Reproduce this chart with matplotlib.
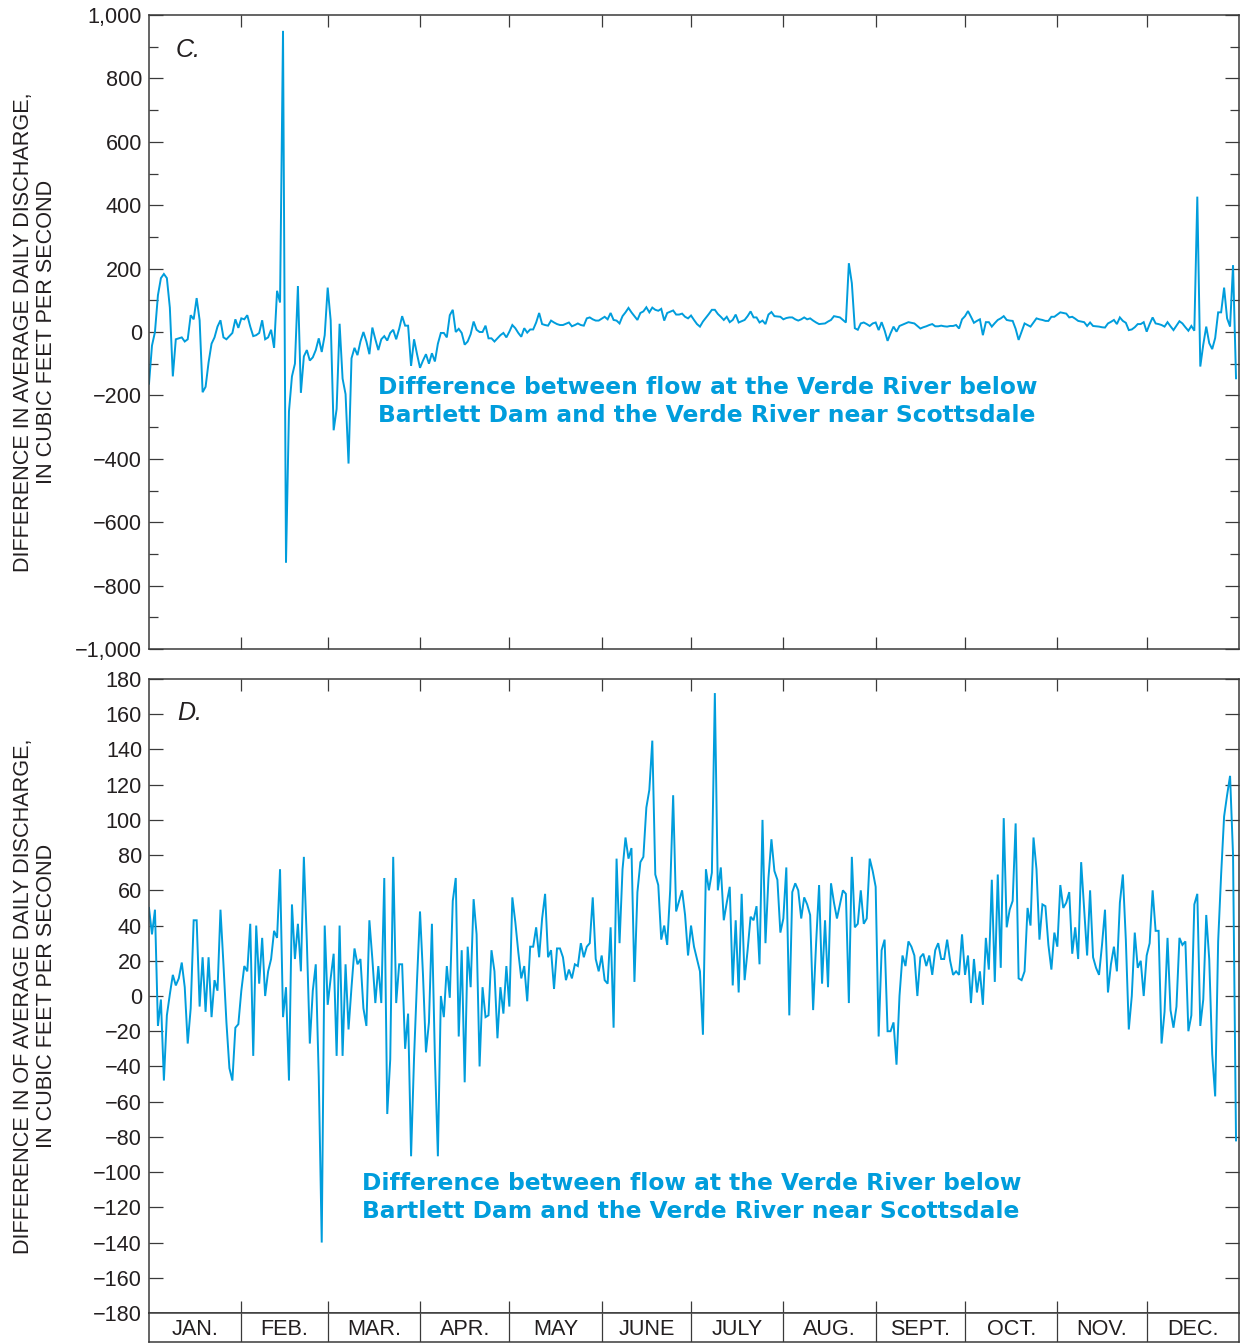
import matplotlib
matplotlib.use("Agg")
import matplotlib.pyplot as plt
import numpy as np

# ---------------- data ----------------
months = ["JAN.", "FEB.", "MAR.", "APR.", "MAY", "JUNE", "JULY", "AUG.",
          "SEPT.", "OCT.", "NOV.", "DEC."]
month_days = [31, 29, 31, 30, 31, 30, 31, 31, 30, 31, 30, 31]

# Panel C: daily difference (cubic feet per second)
c_jan = [-163, -43, 0, 116, 170, 183, 170, 77, -140, -23, -20, -17, -30, -23, 53, 40,
         107, 37, -190, -173, -96, -37, -17, 17, 37, -17, -23, -13, -3, 40, 13]
c_feb = [43, 40, 53, 17, -13, -10, -3, 37, -23, -17, 7, -50, 130, 93, 950, -728,
         -250, -140, -100, 145, -192, -77, -57, -90, -80, -57, -20, -63, -10]
c_mar = [140, 37, -310, -243, 26, -147, -196, -415, -83, -50, -73, -30, 0, -30, -70, 14,
         -23, -57, -23, -13, -27, -3, 7, -23, 10, 50, 20, 20, -107, -23, -70]
c_apr = [-113, -90, -70, -100, -67, -93, -37, -3, -3, -17, 53, 70, 0, 10, -3, -40,
         -30, -7, 33, 7, 0, 0, 20, -20, -20, -30, -20, -10, -3, -17]
c_may = [1, 22, 12, -3, -15, 12, -2, 8, 8, 30, 60, 25, 22, 20, 36, 30,
         25, 22, 22, 26, 30, 18, 22, 27, 22, 20, 43, 46, 40, 36, 36]
c_jun = [42, 48, 40, 60, 38, 36, 27, 50, 62, 76, 62, 50, 38, 60, 65, 78,
         62, 77, 70, 67, 73, 36, 60, 64, 68, 55, 55, 58, 48, 43]
c_jul = [52, 38, 25, 17, 33, 45, 57, 70, 70, 57, 48, 38, 48, 31, 38, 55,
         30, 34, 38, 50, 65, 46, 46, 30, 36, 25, 55, 63, 50, 49, 48]
c_aug = [40, 44, 46, 46, 40, 36, 40, 46, 40, 43, 36, 30, 25, 26, 27, 33,
         38, 50, 48, 46, 38, 30, 217, 154, 12, 7, 27, 30, 25, 19, 27]
c_sep = [30, 6, 31, 5, -28, -4, 17, 1, 19, 23, 27, 31, 29, 27, 19, 11,
         15, 18, 22, 25, 18, 18, 20, 18, 17, 19, 19, 22, 11, 40]
c_oct = [50, 66, 48, 29, 35, 40, -10, 31, 31, 17, 28, 38, 43, 50, 38, 36,
         35, 10, -25, 1, 27, 22, 17, 30, 43, 40, 38, 35, 35, 48, 48]
c_nov = [55, 62, 60, 58, 46, 48, 42, 35, 33, 31, 19, 30, 19, 18, 17, 15,
         14, 27, 32, 38, 25, 46, 35, 29, 6, 8, 15, 25, 25, 31]
c_dec = [1, 25, 46, 27, 25, 22, 17, 31, 18, 6, 20, 34, 27, 15, 4, 19,
         4, 427, -109, -40, 17, -35, -54, -19, 62, 62, 140, 43, 17, 211, -146]

# Panel D: daily difference (cubic feet per second)
d_jan = [50, 35, 49, -17, -2, -48, -11, 1, 12, 6, 10, 19, 5, -27, -7, 43,
         43, -6, 22, -9, 22, -12, 9, 3, 49, 18, -15, -41, -48, -18, -16]
d_feb = [3, 17, 14, 41, -34, 40, 7, 33, 0, 14, 21, 37, 33, 72, -12, 5,
         -48, 52, 21, 41, 14, 79, 31, -27, 3, 18, -46, -140, 40]
d_mar = [-5, 10, 24, -34, 40, -34, 18, -19, 5, 27, 18, 21, -7, -17, 43, 21,
         -4, 17, -4, 67, -67, -36, 79, -4, 18, 18, -30, -10, -91, -35, 9]
d_apr = [48, 12, -32, -15, 41, -35, -91, 0, -12, 17, -1, 54, 67, -23, 26, -49,
         28, 5, 55, 35, -40, 5, -12, -11, 26, 14, -24, 5, -10, 17]
d_may = [-6, 56, 42, 25, 10, 17, -3, 28, 28, 39, 22, 44, 58, 22, 26, 4,
         27, 27, 22, 9, 15, 10, 18, 17, 30, 22, 28, 30, 56, 21, 14]
d_jun = [23, 9, 7, 39, -18, 78, 30, 72, 90, 78, 84, 8, 59, 76, 79, 107,
         117, 145, 69, 63, 32, 40, 29, 60, 114, 48, 54, 60, 46, 23]
d_jul = [40, 28, 21, 14, -22, 72, 60, 70, 172, 60, 73, 43, 53, 62, 6, 43,
         2, 58, 9, 26, 45, 43, 51, 18, 100, 30, 67, 89, 71, 66, 36]
d_aug = [44, 73, -11, 59, 64, 60, 44, 56, 52, 46, -8, 30, 63, 7, 43, 5,
         64, 53, 44, 52, 60, 58, -4, 79, 39, 41, 60, 41, 44, 78, 71]
d_sep = [62, -23, 26, 32, -20, -20, -15, -39, 0, 23, 17, 31, 28, 23, 0, 22,
         24, 17, 23, 12, 26, 30, 21, 21, 32, 20, 12, 14, 12, 35]
d_oct = [12, 23, -4, 21, 2, 14, -5, 33, 15, 66, 8, 69, 16, 101, 39, 49,
         54, 98, 10, 9, 14, 50, 40, 90, 72, 32, 52, 51, 29, 15, 36]
d_nov = [28, 63, 50, 53, 59, 24, 39, 21, 76, 49, 23, 60, 22, 16, 12, 29,
         49, 2, 18, 28, 14, 53, 69, 32, -19, 0, 36, 16, 20, 0]
d_dec = [23, 30, 60, 37, 37, -27, -9, 33, -8, -18, -6, 33, 29, 31, -20, -11,
         52, 58, -17, -2, 46, 21, -33, -57, 31, 69, 102, 114, 125, 80, -82]

panel_c = (c_jan + c_feb + c_mar + c_apr + c_may + c_jun + c_jul + c_aug +
           c_sep + c_oct + c_nov + c_dec)
panel_d = (d_jan + d_feb + d_mar + d_apr + d_may + d_jun + d_jul + d_aug +
           d_sep + d_oct + d_nov + d_dec)

note = ("Difference between flow at the Verde River below\n"
        "Bartlett Dam and the Verde River near Scottsdale")
ylabel_c = "DIFFERENCE IN AVERAGE DAILY DISCHARGE,\nIN CUBIC FEET PER SECOND"
ylabel_d = "DIFFERENCE IN OF AVERAGE DAILY DISCHARGE,\nIN CUBIC FEET PER SECOND"

# ---------------- style ----------------
LINE = "#009ddc"
INK = "#231f20"
SPINE = "#3a3a3a"
FS = 15.6
plt.rcParams["font.family"] = ["Liberation Sans", "DejaVu Sans"]

W, H = 1248, 1344
fig = plt.figure(figsize=(W / 100, H / 100), dpi=100)


def rect(l, t, r, b):
    return [l / W, 1 - b / H, (r - l) / W, (b - t) / H]


bounds = np.cumsum([0] + month_days)
total = bounds[-1]
days = np.arange(len(panel_c))


def fmt(v):
    s = f"{abs(v):,.0f}"
    return ("\u2212" + s) if v < 0 else s


def style(ax, ymin, ymax, major, minor):
    ax.set_xlim(0, total)
    ax.set_ylim(ymin, ymax)
    for s in ax.spines.values():
        s.set_color(SPINE)
        s.set_linewidth(1.1)
    ax.set_xticks(bounds[1:-1])
    ax.set_xticklabels([])
    ax.tick_params(axis="x", which="major", direction="in", top=True, bottom=True,
                   length=8.8, width=0.9, color=SPINE)
    majors = np.arange(ymin, ymax + 0.1, major)
    ax.set_yticks(majors)
    ax.set_yticklabels([fmt(v) for v in majors], fontsize=FS, color=INK)
    if minor:
        ax.set_yticks(np.arange(ymin, ymax + 0.1, minor), minor=True)
    ax.tick_params(axis="y", which="major", direction="in", left=True, right=True,
                   length=10, width=0.9, color=SPINE, pad=5)
    ax.tick_params(axis="y", which="minor", direction="in", left=True, right=True,
                   length=6.5, width=0.9, color=SPINE)


axC = fig.add_axes(rect(149, 15, 1239, 649))
axC.plot(days, panel_c, color=LINE, lw=1.4, solid_joinstyle="miter")
style(axC, -1000, 1000, 200, 100)
axC.text(0.024, 0.945, "C.", transform=axC.transAxes, fontsize=18, style="italic",
         color=INK, ha="left", va="center")
axC.text(0.210, 0.3904, note, transform=axC.transAxes, fontsize=16.8,
         fontweight="bold", family="DejaVu Sans", color=LINE, ha="left", va="center",
         linespacing=1.33)

axD = fig.add_axes(rect(149, 679, 1239, 1313))
axD.plot(days, panel_d, color=LINE, lw=1.4, solid_joinstyle="miter")
style(axD, -180, 180, 20, None)
axD.text(0.026, 0.946, "D.", transform=axD.transAxes, fontsize=18, style="italic",
         color=INK, ha="left", va="center")
axD.text(0.1954, 0.1822, note, transform=axD.transAxes, fontsize=16.8,
         fontweight="bold", family="DejaVu Sans", color=LINE, ha="left", va="center",
         linespacing=1.33)

# month label row
axM = fig.add_axes(rect(149, 1313, 1239, 1342))
axM.set_xlim(0, total)
axM.set_ylim(0, 1)
axM.set_xticks([])
axM.set_yticks([])
for s in axM.spines.values():
    s.set_color(SPINE)
    s.set_linewidth(1.1)
axM.vlines(bounds[1:-1], 0, 1, color=SPINE, lw=0.9)
centers = (bounds[:-1] + bounds[1:]) / 2
for cx, name in zip(centers, months):
    axM.text(cx, 0.42, name, fontsize=FS, color=INK, ha="center", va="center")

# y-axis labels
fig.text(35 / W, 1 - 332 / H, ylabel_c, rotation=90, fontsize=FS, color=INK,
         ha="center", va="center", multialignment="center", linespacing=1.15)
fig.text(35 / W, 1 - 996 / H, ylabel_d, rotation=90, fontsize=FS, color=INK,
         ha="center", va="center", multialignment="center", linespacing=1.15)

fig.savefig("out.png", dpi=100)
